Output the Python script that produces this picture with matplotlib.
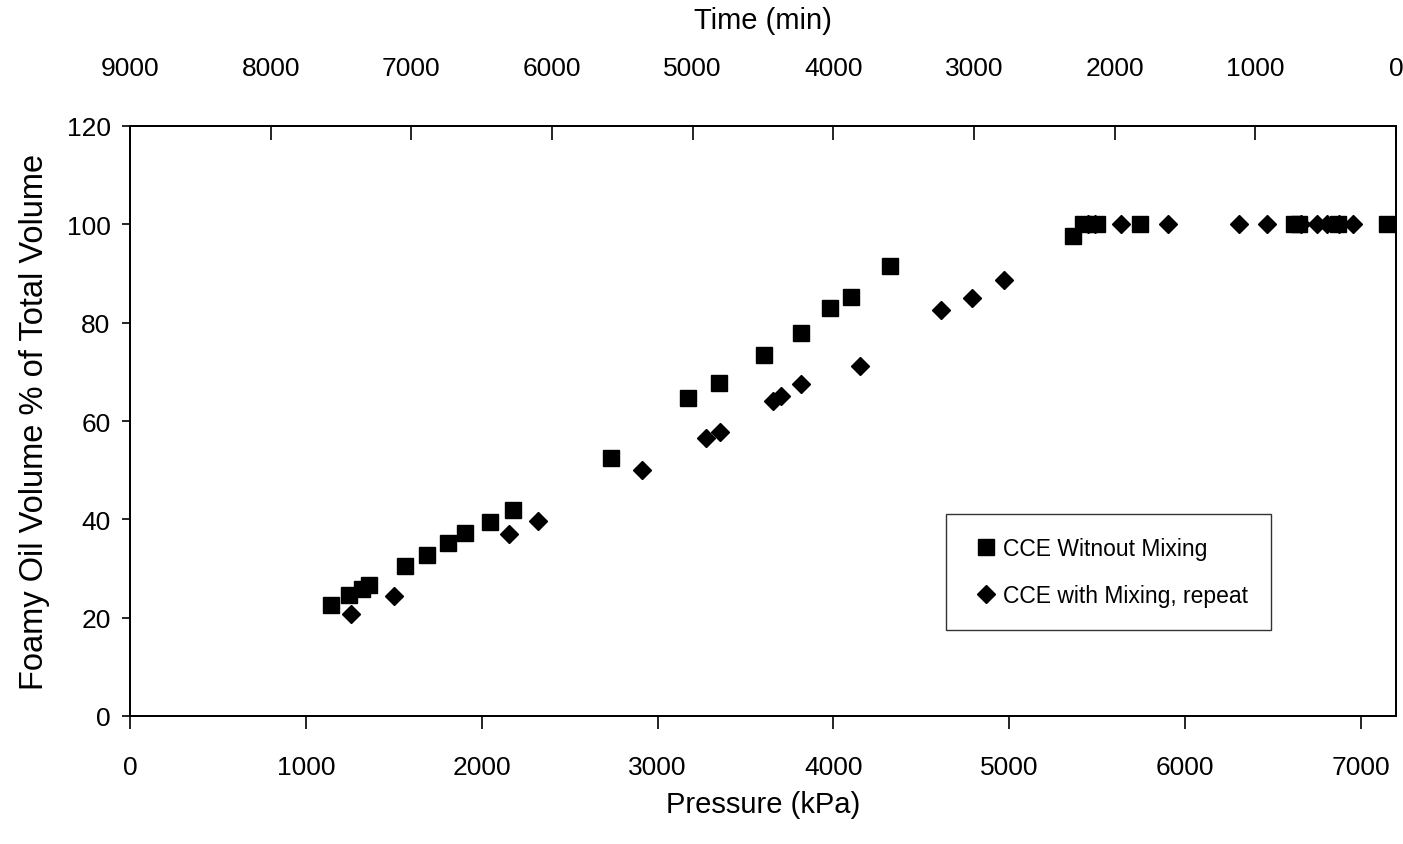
import matplotlib
matplotlib.use("Agg")
import matplotlib.pyplot as plt

plt.rcParams["font.family"] = ["Liberation Sans", "DejaVu Sans"]

# CCE without mixing (squares)
no_mix_p = [1141, 1243, 1317, 1362, 1566, 1691, 1810, 1907, 2049, 2179,
            2735, 3173, 3348, 3604, 3814, 3979, 4098, 4325, 5362, 5420,
            5500, 5742, 6620, 6650, 6870, 7150]
no_mix_v = [22.6, 24.6, 25.8, 26.6, 30.5, 32.7, 35.2, 37.2, 39.4, 41.9,
            52.4, 64.6, 67.7, 73.4, 78.0, 82.9, 85.2, 91.5, 97.6, 100,
            100, 100, 100, 100, 100, 100]

# CCE with mixing, repeat (diamonds)
mix_p = [1258, 1500, 2157, 2323, 2913, 3273, 3354, 3655, 3700, 3814,
         4154, 4614, 4790, 4972, 5450, 5490, 5634, 5901, 6309, 6468,
         6660, 6752, 6809, 6877, 6957]
mix_v = [20.7, 24.5, 37.0, 39.6, 50.0, 56.5, 57.7, 64.0, 65.0, 67.5,
         71.1, 82.5, 85.0, 88.6, 100, 100, 100, 100, 100, 100,
         100, 100, 100, 100, 100]

pressure_ticks = [0, 1000, 2000, 3000, 4000, 5000, 6000, 7000]
time_ticks = [9000, 8000, 7000, 6000, 5000, 4000, 3000, 2000, 1000, 0]
y_ticks = [0, 20, 40, 60, 80, 100, 120]

fig = plt.figure(figsize=(14.03, 8.45), dpi=100)
ax = fig.add_axes([130 / 1403, 1 - 717 / 845, 1266 / 1403, 590 / 845])

ax.plot(no_mix_p, no_mix_v, linestyle="none", marker="s", markersize=12,
        color="black", label="CCE Witnout Mixing")
ax.plot(mix_p, mix_v, linestyle="none", marker="D", markersize=9.5,
        color="black", label="CCE with Mixing, repeat")

ax.set_xlim(0, 7200)
ax.set_ylim(0, 120)
ax.set_xticks(pressure_ticks)
ax.set_yticks(y_ticks)
ax.tick_params(axis="x", direction="out", length=9, width=1.2, pad=19, labelsize=19)
ax.tick_params(axis="y", direction="out", length=6, width=1.2, pad=8, labelsize=19)
for sp in ax.spines.values():
    sp.set_linewidth(1.3)
    sp.set_color("black")

ax.set_xlabel("Pressure (kPa)", fontsize=21, labelpad=8)
ax.set_ylabel("Foamy Oil Volume % of Total Volume", fontsize=23.5, labelpad=12)

# top axis: time runs backwards over the same width
top = ax.twiny()
top.set_xlim(9000, 0)
top.set_xticks(time_ticks)
top.tick_params(axis="x", direction="in", length=10, width=1.2, pad=33, labelsize=19)
top.set_xlabel("Time (min)", fontsize=21, labelpad=20)
for sp in top.spines.values():
    sp.set_linewidth(1.3)

leg = ax.legend(loc="upper left", bbox_to_anchor=(0.6446, 0.3424),
                fontsize=16.5, frameon=True, fancybox=False, edgecolor="black",
                borderpad=1.0, handlelength=1.5, handletextpad=0.0,
                labelspacing=1.05, borderaxespad=0)
leg.get_frame().set_linewidth(1.0)

fig.savefig("out.png", dpi=100)
